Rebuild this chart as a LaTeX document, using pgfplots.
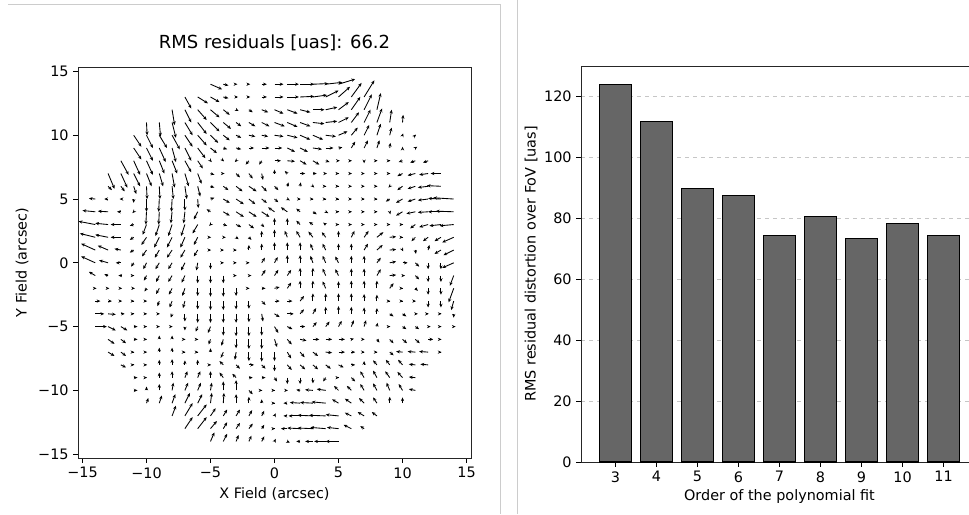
\documentclass[border=0pt]{standalone}
\usepackage{fontspec}
\setmainfont{DejaVu Sans}
\usepackage{pgfplots}
\pgfplotsset{compat=1.18}
\usepackage{pgfplotstable}
\usetikzlibrary{arrows.meta}
\definecolor{barfill}{HTML}{666666}
\definecolor{framegray}{HTML}{CCCCCC}

% residual vectors (arcsec, drawn length)
\pgfplotstableread{
x y u v
-5 14 0.9 -0.4
-4 14 0.4 -0.1
-3 14 0.1 0
-2 14 0.1 0
-1 14 0.4 0
0 14 0.7 0
1 14 0.9 0
2 14 1.1 0
3 14 1.2 0.05
4 14 1.3 0.15
5 14 1.3 0.4
-7 13 0.5 -0.9
-6 13 0.8 -0.5
-5 13 0.7 -0.4
-4 13 0.4 -0.1
-3 13 0.15 0
-2 13 0.1 0
-1 13 0.4 0
0 13 0.7 0
1 13 0.9 0
2 13 1.1 0.05
3 13 1.1 0.15
4 13 1.0 0.5
5 13 0.9 0.8
6 13 0.8 1.1
7 13 0.8 1.3
-8 12 0.2 -1.2
-7 12 0.5 -1.0
-6 12 0.7 -0.8
-5 12 0.7 -0.6
-4 12 0.5 -0.4
-3 12 0.2 -0.1
-2 12 0.3 -0.2
-1 12 0.5 -0.2
0 12 0.7 -0.3
1 12 0.8 -0.3
2 12 0.8 -0.2
3 12 0.9 0
4 12 0.9 0.2
5 12 0.8 0.6
6 12 0.7 1.0
7 12 0.6 1.2
8 12 0.3 1.3
-10 11 0.05 -1.0
-9 11 0.1 -1.1
-8 11 0.3 -1.2
-7 11 0.6 -1.0
-6 11 0.7 -0.9
-5 11 0.7 -0.7
-4 11 0.6 -0.5
-3 11 0.4 -0.3
-2 11 0.5 -0.3
-1 11 0.6 -0.3
0 11 0.8 -0.3
1 11 0.8 -0.35
2 11 0.8 -0.3
3 11 0.9 -0.1
4 11 0.9 0.1
5 11 0.8 0.4
6 11 0.6 0.8
7 11 0.5 1.0
8 11 0.4 1.1
9 11 0.15 1.0
10 11 0.05 0.6
-11 10 0.6 -0.9
-10 10 0.5 -1.0
-9 10 0.6 -1.0
-8 10 0.6 -1.1
-7 10 0.6 -0.9
-6 10 0.7 -0.8
-5 10 0.6 -0.6
-4 10 0.5 -0.4
-3 10 0.4 -0.2
-2 10 0.5 -0.1
-1 10 0.5 -0.1
0 10 0.7 -0.1
1 10 0.8 -0.2
2 10 0.8 -0.35
3 10 0.8 -0.35
4 10 0.8 -0.1
5 10 0.7 0.3
6 10 0.5 0.6
7 10 0.4 0.8
8 10 0.3 0.9
9 10 0.15 0.6
10 10 0.05 0.15
11 10 0.05 0.05
-11 9 0.6 -0.9
-10 9 0.5 -1.0
-9 9 0.5 -1.1
-8 9 0.3 -1.1
-7 9 0.5 -1.0
-6 9 0.6 -0.8
-5 9 0.5 -0.4
-4 9 0.3 -0.1
-3 9 0.4 -0.1
-2 9 0.4 0
-1 9 0.6 0
0 9 0.6 0
1 9 0.6 -0.3
2 9 0.6 -0.3
3 9 0.7 -0.1
4 9 0.6 0
5 9 0.3 0.05
6 9 0.3 0.5
7 9 0.3 0.6
8 9 0.2 0.6
9 9 0.05 0.4
10 9 0 0.1
11 9 0.15 0.1
-12 8 0.6 -1.1
-11 8 0.5 -1.1
-10 8 0.5 -1.1
-9 8 0.4 -1.0
-8 8 0.4 -1.0
-7 8 0.5 -0.9
-6 8 0.4 -0.6
-5 8 0.1 -0.1
-4 8 0.05 -0.05
-3 8 -0.1 -0.1
-2 8 -0.25 -0.3
-1 8 -0.2 -0.3
0 8 0.5 0
1 8 0.6 -0.05
2 8 0.5 -0.3
3 8 0.5 -0.3
4 8 0.3 -0.1
5 8 0.1 0
6 8 0.05 0
7 8 0 -0.2
8 8 0.05 0
9 8 0.05 0
10 8 -0.3 -0.1
11 8 -0.4 -0.15
12 8 -0.4 -0.15
-13 7 0.5 -1.2
-12 7 0.5 -1.1
-11 7 0.5 -1.0
-10 7 0.4 -1.0
-9 7 0.3 -1.0
-8 7 0.2 -1.1
-7 7 0.3 -1.0
-6 7 0.3 -0.8
-5 7 0.3 -0.1
-4 7 0.1 0
-3 7 0.3 -0.3
-2 7 0.3 -0.4
-1 7 0.1 -0.5
0 7 0 0.3
1 7 -0.2 0.2
2 7 0.4 0
3 7 0.3 0
4 7 0.1 0
5 7 0.05 0
6 7 0.05 0
7 7 0.05 0
8 7 0.05 0
9 7 0.05 0
10 7 -0.4 -0.2
11 7 -0.6 -0.15
12 7 -0.7 -0.1
13 7 -0.8 0
-13 6 0.3 -0.3
-12 6 0.3 -0.4
-11 6 0.2 -0.6
-10 6 0.05 -1.0
-9 6 0.05 -1.0
-8 6 0.1 -1.0
-7 6 0.15 -1.0
-6 6 0.2 -0.8
-5 6 0.3 -0.1
-4 6 0.4 -0.3
-3 6 0.5 -0.4
-2 6 0.6 -0.4
-1 6 0.4 -0.4
0 6 0.3 -0.3
1 6 0.1 0.3
2 6 0.05 0.3
3 6 0.1 -0.1
4 6 0.05 0
5 6 0.05 0
6 6 0.05 0
7 6 0.05 0
8 6 0.05 0
9 6 -0.1 -0.1
10 6 -0.4 -0.3
11 6 -0.6 -0.2
12 6 -0.8 -0.1
13 6 -1.1 0.05
-14 5 -0.5 0.05
-13 5 -0.3 0
-12 5 -0.1 0
-11 5 0 -0.3
-10 5 0 -1.0
-9 5 -0.05 -1.0
-8 5 -0.05 -1.0
-7 5 0 -0.9
-6 5 0.05 -0.7
-5 5 0.3 0.1
-4 5 0.5 -0.3
-3 5 0.6 -0.4
-2 5 0.5 -0.4
-1 5 0.4 -0.3
0 5 0.3 -0.25
1 5 0.2 -0.1
2 5 0.05 0
3 5 0.05 0
4 5 0.05 0
5 5 0.05 0
6 5 0.05 0
7 5 0.05 0
8 5 0.05 0
9 5 -0.3 -0.2
10 5 -0.5 -0.3
11 5 -0.6 -0.2
12 5 -0.8 -0.1
13 5 -1.0 0.05
14 5 -1.6 0.1
-14 4 -1.0 0.1
-13 4 -0.8 0.05
-12 4 -0.3 0
-11 4 -0.1 -0.1
-10 4 -0.05 -1.0
-9 4 -0.05 -1.0
-8 4 -0.1 -0.9
-7 4 -0.1 -0.9
-6 4 -0.3 -0.6
-5 4 -0.3 0.2
-4 4 0.5 -0.3
-3 4 0.6 -0.4
-2 4 0.6 -0.4
-1 4 0.6 -0.4
0 4 -0.5 0.35
1 4 -0.5 0.35
2 4 -0.3 0.25
3 4 0.3 -0.2
4 4 0.2 -0.1
5 4 0.05 0
6 4 0.05 0
7 4 0.05 0
8 4 0.05 0
9 4 0.05 -0.2
10 4 -0.5 -0.3
11 4 -0.7 -0.15
12 4 -0.8 -0.05
13 4 -1.0 0
14 4 -1.4 0.05
-14 3 -1.3 0.25
-13 3 -1.0 0.1
-12 3 -0.8 0
-11 3 -0.3 -0.1
-10 3 -0.3 -0.8
-9 3 -0.3 -0.9
-8 3 -0.3 -0.9
-7 3 -0.3 -0.9
-6 3 -0.4 -0.7
-5 3 -0.1 -0.1
-4 3 0.3 -0.1
-3 3 0.4 -0.2
-2 3 0.4 -0.3
-1 3 0.2 -0.2
0 3 0 0.5
1 3 0 0.5
2 3 -0.3 0.3
3 3 -0.3 0.2
4 3 -0.2 0.15
5 3 0.05 0
6 3 0.05 0
7 3 0.05 0
8 3 0.05 0
9 3 0.05 0
10 3 0.05 0
11 3 -0.4 -0.3
12 3 -0.7 -0.2
13 3 -0.9 -0.1
14 3 -1.1 -0.1
-14 2 -1.2 0.3
-13 2 -1.0 0.2
-12 2 -0.8 0
-11 2 -0.3 -0.2
-10 2 -0.4 -0.6
-9 2 -0.4 -0.8
-8 2 -0.4 -0.8
-7 2 -0.35 -0.8
-6 2 -0.3 -0.6
-5 2 0.05 0
-4 2 0.2 0
-3 2 0.2 -0.15
-2 2 0.2 -0.2
-1 2 0 0.5
0 2 0 0.6
1 2 -0.2 0.5
2 2 -0.3 0.5
3 2 -0.35 0.45
4 2 -0.3 0.4
5 2 0 0.5
6 2 0.25 0.5
7 2 0.35 0.5
8 2 0.5 0.4
9 2 0.5 0.05
10 2 0.05 0
11 2 -0.3 -0.3
12 2 -0.4 -0.3
13 2 -0.5 -0.3
14 2 -0.9 -0.4
-14 1 -1.1 0.5
-13 1 -0.8 0.35
-12 1 -0.5 0.1
-11 1 -0.3 -0.2
-10 1 -0.35 -0.5
-9 1 -0.35 -0.6
-8 1 -0.4 -0.6
-7 1 -0.35 -0.6
-6 1 -0.3 -0.5
-5 1 0.05 0
-4 1 0.05 0
-3 1 0.05 0
-2 1 0 0.4
-1 1 0 0.5
0 1 0 0.6
1 1 0 0.6
2 1 0 0.6
3 1 -0.2 0.5
4 1 -0.25 0.5
5 1 0 0.5
6 1 0 0.5
7 1 0.3 0.5
8 1 0.45 0.4
9 1 0.5 0.05
10 1 0.05 -0.1
11 1 0.05 -0.3
12 1 0.1 0.4
13 1 -0.5 -0.3
14 1 -0.8 -0.4
-14 0 -1.1 0.5
-13 0 -0.7 0.2
-12 0 -0.4 0
-11 0 -0.2 -0.3
-10 0 -0.25 -0.5
-9 0 -0.3 -0.5
-8 0 -0.3 -0.5
-7 0 -0.3 -0.6
-6 0 -0.1 -0.6
-5 0 0 -0.5
-4 0 0.05 0
-3 0 0.05 0
-2 0 0.05 0
-1 0 0.25 0.4
0 0 0.25 0.45
1 0 0 0.6
2 0 0 0.6
3 0 -0.2 0.55
4 0 -0.25 0.55
5 0 -0.25 0.5
6 0 0 0.55
7 0 0 0.55
8 0 0.3 0.4
9 0 0.5 0.1
10 0 0.4 0
11 0 0.3 -0.3
12 0 0 -0.5
13 0 0 -0.5
14 0 -0.9 -0.4
-14 -1 -0.5 0.3
-13 -1 -0.3 0.1
-12 -1 -0.2 0
-11 -1 0.05 0
-10 -1 -0.2 -0.4
-9 -1 -0.25 -0.5
-8 -1 -0.3 -0.5
-7 -1 -0.25 -0.55
-6 -1 0 -0.6
-5 -1 0 -0.6
-4 -1 0 -0.6
-3 -1 0.05 0
-2 -1 0.2 0
-1 -1 0.3 0.45
0 -1 0.3 0.45
1 -1 0.3 0.45
2 -1 0 0.6
3 -1 0 0.6
4 -1 -0.25 0.55
5 -1 -0.25 0.5
6 -1 0 0.55
7 -1 0 0.55
8 -1 0.3 0.5
9 -1 0.5 0.05
10 -1 0.2 0
11 -1 0.3 -0.3
12 -1 0 -0.5
13 -1 0 -0.5
14 -1 -0.3 -0.8
-14 -2 0.1 0
-13 -2 0.1 0
-12 -2 0.1 0
-11 -2 0.1 0
-10 -2 -0.15 -0.25
-9 -2 -0.25 -0.45
-8 -2 -0.25 -0.5
-7 -2 -0.2 -0.6
-6 -2 0 -0.6
-5 -2 0 -0.65
-4 -2 0 -0.65
-3 -2 0 -0.6
-2 -2 0.05 0
-1 -2 0.3 0
0 -2 0.4 0.1
1 -2 0.3 0.45
2 -2 0 0.6
3 -2 0 0.6
4 -2 -0.25 0.55
5 -2 0 0.55
6 -2 0 0.6
7 -2 0 0.6
8 -2 0 0.6
9 -2 0.3 0.4
10 -2 0.05 0
11 -2 0.2 -0.2
12 -2 0 -0.5
13 -2 0 -0.5
14 -2 -0.4 -1.1
-14 -3 0.4 0
-13 -3 0.3 0
-12 -3 0.1 0
-11 -3 0.05 0
-10 -3 0.05 0
-9 -3 -0.15 -0.4
-8 -3 -0.2 -0.5
-7 -3 -0.15 -0.55
-6 -3 0 -0.65
-5 -3 0 -0.7
-4 -3 0 -0.7
-3 -3 0 -0.65
-2 -3 0 -0.6
-1 -3 0.3 -0.3
0 -3 0.4 0
1 -3 0.4 0
2 -3 0.3 0.4
3 -3 0 0.6
4 -3 0 0.6
5 -3 0 0.6
6 -3 0 0.6
7 -3 0 0.55
8 -3 0 0.5
9 -3 0.05 0
10 -3 0.05 0
11 -3 0.05 0
12 -3 0 -0.5
13 -3 0 -0.5
14 -3 -0.2 -0.7
-14 -4 0.7 0
-13 -4 0.6 -0.05
-12 -4 0.3 0
-11 -4 0.05 0
-10 -4 0.05 0
-9 -4 0.05 0
-8 -4 -0.1 -0.3
-7 -4 0 -0.6
-6 -4 0 -0.7
-5 -4 0 -0.7
-4 -4 0 -0.7
-3 -4 0 -0.7
-2 -4 0 -0.65
-1 -4 0.1 -0.6
0 -4 0.4 -0.25
1 -4 0.5 0
2 -4 0.3 0.35
3 -4 0.25 0.45
4 -4 0 0.55
5 -4 0 0.6
6 -4 0 0.55
7 -4 0 0.5
8 -4 0 0.45
9 -4 0.3 -0.2
10 -4 0.3 -0.2
11 -4 0.2 0
12 -4 0.05 0
13 -4 0.05 0
14 -4 0 -0.3
-14 -5 0.9 0
-13 -5 0.6 -0.3
-12 -5 0.5 -0.3
-11 -5 0.3 0
-10 -5 0.05 0
-9 -5 0.05 0
-8 -5 0.05 0
-7 -5 0 -0.3
-6 -5 -0.15 -0.4
-5 -5 -0.2 -0.5
-4 -5 0 -0.7
-3 -5 0 -0.75
-2 -5 0 -0.75
-1 -5 0 -0.7
0 -5 0.3 -0.5
1 -5 0.4 -0.2
2 -5 0.4 0
3 -5 0.3 0.35
4 -5 0.3 0.4
5 -5 0.25 0.45
6 -5 0.2 0.5
7 -5 0.15 0.5
8 -5 0.05 0.3
9 -5 0.05 0
10 -5 0.3 -0.2
11 -5 0.3 -0.2
12 -5 0.2 0
13 -5 0.05 0
14 -5 0.15 0
-13 -6 0.5 -0.35
-12 -6 0.4 -0.3
-11 -6 0.3 0
-10 -6 0.05 0
-9 -6 0 0.3
-8 -6 0 0.3
-7 -6 0.05 0
-6 -6 0.05 0
-5 -6 -0.15 -0.4
-4 -6 -0.15 -0.5
-3 -6 0 -0.7
-2 -6 0 -0.75
-1 -6 0 -0.75
0 -6 0.2 -0.6
1 -6 0.35 -0.4
2 -6 0.5 -0.1
3 -6 0.5 0
4 -6 0.5 0
5 -6 0.5 0
6 -6 0.2 0.05
7 -6 0.05 0
8 -6 0.2 -0.25
9 -6 0.3 -0.3
10 -6 0.35 -0.3
11 -6 0.35 -0.3
12 -6 0.4 0
13 -6 0.05 0
-13 -7 0.5 -0.3
-12 -7 0.4 -0.3
-11 -7 0.05 0
-10 -7 0.05 0
-9 -7 0 0.35
-8 -7 0 0.35
-7 -7 0.05 0
-6 -7 0.05 0
-5 -7 0 0.3
-4 -7 -0.2 -0.45
-3 -7 -0.1 -0.6
-2 -7 0 -0.7
-1 -7 0 -0.75
0 -7 0 -0.7
1 -7 0.3 -0.5
2 -7 0.35 -0.4
3 -7 0.4 -0.3
4 -7 0.5 -0.05
5 -7 0.5 0
6 -7 0.3 0
7 -7 0.05 0
8 -7 0.05 0
9 -7 0.3 -0.25
10 -7 -0.5 0.05
11 -7 -0.6 0.05
12 -7 -0.7 0.05
13 -7 0.05 0
-12 -8 0.4 -0.2
-11 -8 0.05 0
-10 -8 0.05 0
-9 -8 0 0.4
-8 -8 0 0.45
-7 -8 0 0.35
-6 -8 0 0.4
-5 -8 0.05 0
-4 -8 -0.3 0.3
-3 -8 0.3 -0.3
-2 -8 0.4 0
-1 -8 0.3 -0.3
0 -8 0 -0.5
1 -8 0.35 -0.4
2 -8 0.4 -0.35
3 -8 0.4 -0.35
4 -8 0.4 -0.3
5 -8 0.4 -0.2
6 -8 0.3 0
7 -8 0 0.3
8 -8 -0.3 0.35
9 -8 -0.3 0.4
10 -8 -0.35 0.4
11 -8 -0.5 0.05
12 -8 -0.6 0.05
-11 -9 0.3 0
-10 -9 0.05 0
-9 -9 0 0.4
-8 -9 0 0.5
-7 -9 0.2 0.5
-6 -9 0.2 0.5
-5 -9 0 0.5
-4 -9 -0.3 0.4
-3 -9 -0.3 0.3
-2 -9 0.3 0
-1 -9 0.3 0
0 -9 0.2 -0.3
1 -9 0 -0.5
2 -9 0 -0.5
3 -9 0 -0.45
4 -9 -0.2 -0.3
5 -9 0.05 0
6 -9 0.3 -0.3
7 -9 -0.3 0.5
8 -9 -0.3 0.55
9 -9 -0.35 0.5
10 -9 -0.4 0.45
11 -9 -0.5 0.05
-11 -10 0.3 0
-10 -10 0 0.3
-9 -10 0 0.5
-8 -10 0.1 0.6
-7 -10 0.25 0.6
-6 -10 0.25 0.6
-5 -10 0.1 0.6
-4 -10 0 0.7
-3 -10 0 0.8
-2 -10 0.3 -0.3
-1 -10 0.05 0
0 -10 0.05 0
1 -10 0.05 0
2 -10 -0.3 0.05
3 -10 -0.6 0.05
4 -10 -0.7 0.1
5 -10 -0.35 0.35
6 -10 -0.35 0.35
7 -10 -0.3 0.5
8 -10 -0.3 0.55
9 -10 -0.25 0.6
10 -10 -0.3 0.5
11 -10 -0.5 0.1
-10 -11 0.15 0.4
-9 -11 0.2 0.6
-8 -11 0.25 0.7
-7 -11 0.4 0.8
-6 -11 0.35 0.7
-5 -11 0.1 0.8
-4 -11 0.05 0.8
-3 -11 0 0.7
-2 -11 0 0.5
-1 -11 0 0.3
0 -11 0.05 0
1 -11 -0.3 0
2 -11 -0.8 0.05
3 -11 -1.0 0.05
4 -11 -1.1 0.1
5 -11 -0.5 0.3
6 -11 -0.5 0.35
7 -11 -0.4 0.4
8 -11 -0.3 0.45
9 -11 0 0.5
10 -11 0 0.45
-8 -12 0.3 0.8
-7 -12 0.6 1.0
-6 -12 0.7 0.9
-5 -12 0.4 0.6
-4 -12 0.3 0.5
-3 -12 0.3 0.5
-2 -12 0.25 0.45
-1 -12 0.2 0.4
0 -12 0.1 0.2
1 -12 -0.3 0
2 -12 -0.9 0
3 -12 -1.2 0.05
4 -12 -1.3 0.05
5 -12 -1.0 0.1
6 -12 -0.5 0.25
7 -12 -0.5 0.3
8 -12 -0.4 0.3
-7 -13 0.6 0.9
-6 -13 0.7 0.9
-5 -13 0.5 0.6
-4 -13 0.3 0.5
-3 -13 0.3 0.45
-2 -13 0.3 0.4
-1 -13 0.2 0.3
0 -13 0.05 0
1 -13 -0.5 0
2 -13 -1.0 0.05
3 -13 -1.2 0.05
4 -13 -1.2 0.1
5 -13 -0.9 0.1
6 -13 -0.6 0.3
7 -13 -0.3 0.2
-5 -14 0.3 0.7
-4 -14 0.3 0.6
-3 -14 0.2 0.5
-2 -14 0.2 0.45
-1 -14 0.2 0.4
0 -14 0.1 0.2
1 -14 0.2 -0.1
2 -14 -0.3 0
3 -14 -0.6 0
4 -14 -0.9 0
5 -14 -1.0 0
}\residuals

\pgfplotstableread{
order rms
3 123.8
4 111.7
5 89.9
6 87.6
7 74.5
8 80.7
9 73.5
10 78.3
11 74.3
}\rmsfit

\begin{document}
\begin{tikzpicture}
\path[use as bounding box] (0,0) rectangle (726.75pt,385.5pt);
% panel frames
\draw[framegray, line width=0.75pt] (6pt,381.75pt) -- (375pt,381.75pt) -- (375pt,0pt);
\draw[framegray, line width=0.75pt] (387.75pt,0pt) -- (387.75pt,385.5pt);

\pgfplotsset{
  every axis/.append style={
    tick label style={font=\fontsize{10.8}{12}\selectfont},
    label style={font=\fontsize{10.8}{12}\selectfont},
    title style={font=\fontsize{13.5}{15}\selectfont},
    tick pos=left, tick align=outside,
    major tick length=3.5pt,
    every tick/.style={black, line width=0.6pt},
    axis line style={line width=0.6pt, black!85},
    /pgf/number format/assume math mode=true,
  }
}

% left: quiver map of residuals
\begin{axis}[
  at={(58.5pt,42pt)}, anchor=south west, scale only axis,
  width=294.75pt, height=293.25pt,
  xmin=-15.35, xmax=15.35, ymin=-15.3, ymax=15.35,
  xtick={-15,-10,-5,0,5,10,15}, xticklabels={−15,−10,−5,0,5,10,15},
  ytick={-15,-10,-5,0,5,10,15}, yticklabels={−15,−10,−5,0,5,10,15},
  title={RMS residuals [uas]: 66.2},
  title style={at={(axis description cs:0.5,1.041)}, anchor=center},
  xlabel={X Field (arcsec)},
  xlabel style={at={(axis description cs:0.5,-0.092)}, anchor=center},
  ylabel={Y Field (arcsec)},
  ylabel style={at={(axis description cs:-0.1425,0.5)}, anchor=center},
]
\addplot[black, line width=0.65pt,
  quiver={u=\thisrow{u}, v=\thisrow{v},
    every arrow/.append style={-{Stealth[length=2.8pt,width=2.4pt]}}}]
  table[x=x, y=y] {\residuals};
\end{axis}

% right: RMS vs polynomial order
\begin{axis}[
  at={(435.75pt,39pt)}, anchor=south west, scale only axis,
  width=297.75pt, height=297pt,
  xmin=2.16, xmax=11.84, ymin=0, ymax=130,
  xtick={3,...,11}, ytick={0,20,...,120},
  ymajorgrids, grid style={dashed, gray!45, line width=0.4pt},
  xlabel={Order of the polynomial fit},
  xlabel style={at={(axis description cs:0.5,-0.088)}, anchor=center},
  ylabel={RMS residual distortion over FoV [uas]},
  ylabel style={at={(axis description cs:-0.126,0.5)}, anchor=center},
]
\addplot[ybar, bar width=0.8, fill=barfill, draw=black, line width=0.8pt]
  table[x=order, y=rms] {\rmsfit};
\end{axis}
\end{tikzpicture}
\end{document}
